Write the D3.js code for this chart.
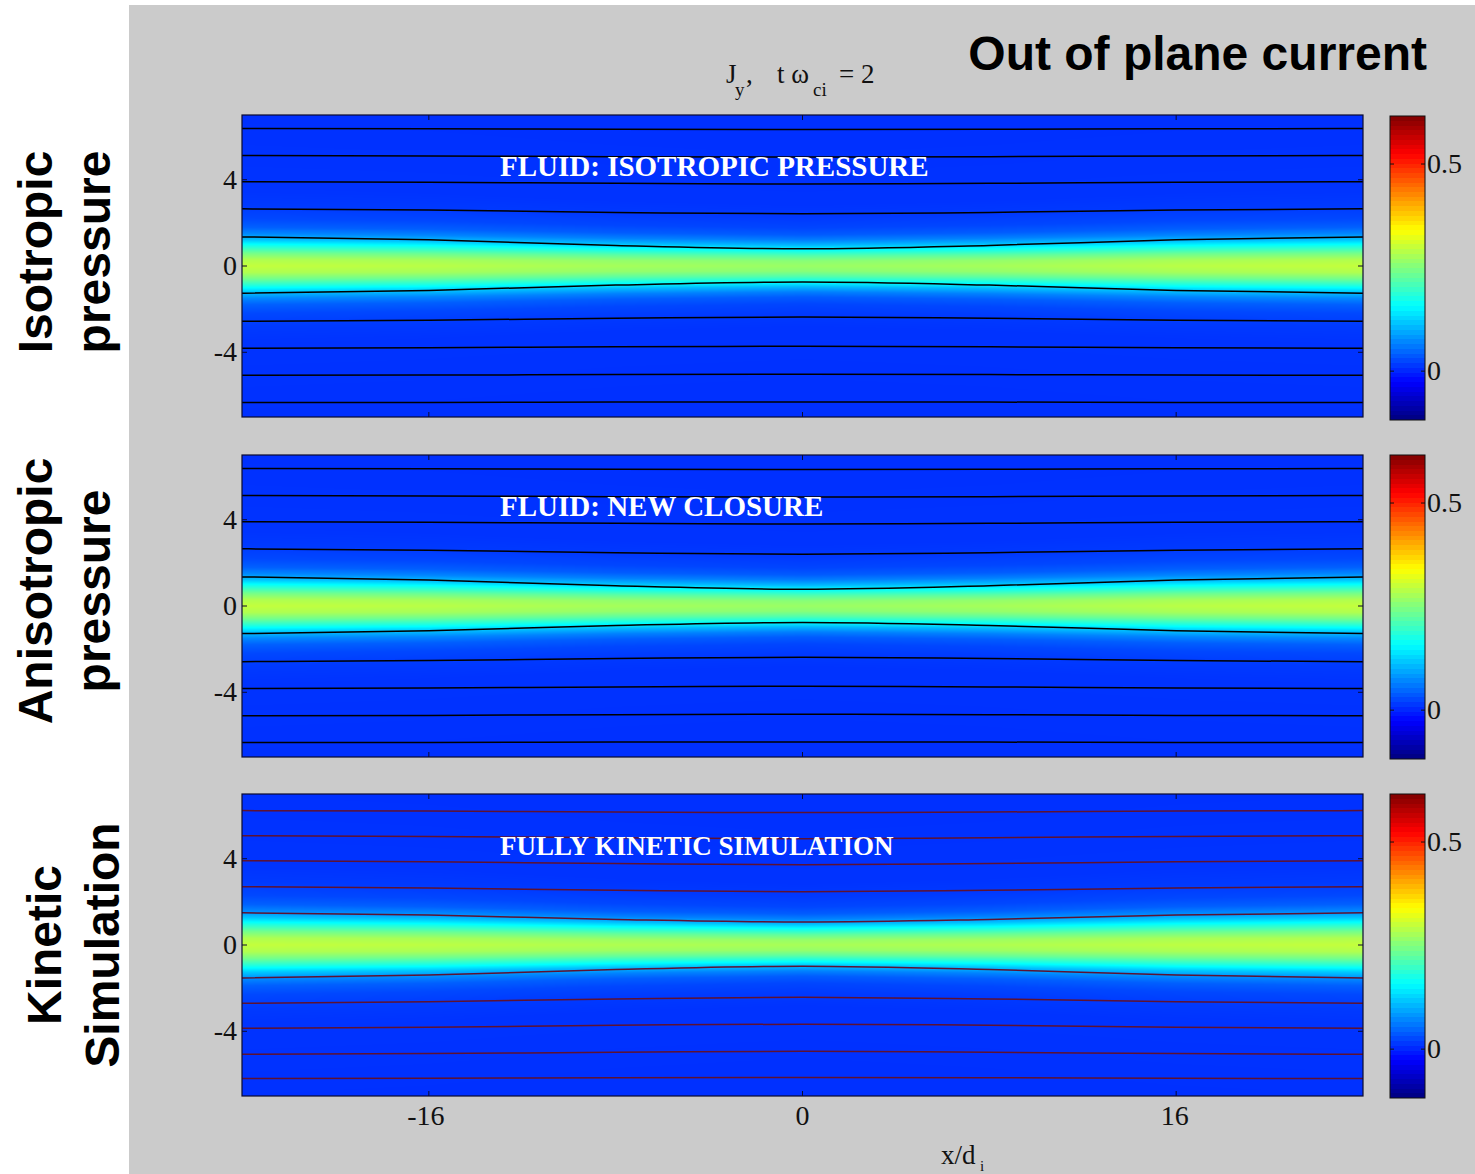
<!DOCTYPE html>
<html>
<head>
<meta charset="utf-8">
<script src="https://cdn.jsdelivr.net/npm/d3@7"></script>
<style>
  html, body { margin: 0; padding: 0; background: #ffffff; }
  svg { display: block; }
</style>
</head>
<body>
<svg id="chart" width="1475" height="1174"></svg>
<script>
// ---------------------------------------------------------------
// Out-of-plane current J_y at t*omega_ci = 2 for three models
// ---------------------------------------------------------------

// x positions (units of d_i) where the sheet pinch is sampled
const xKnots = [-24, -16, -8, 0, 8, 16, 24];
// fraction of the centre displacement reached at each knot
const pinchShape = [0, 0.25, 0.72, 1, 0.72, 0.25, 0];

// normalised current profile across the sheet (|z| / width -> J / peak)
const zProfile = [0, 0.3, 0.6, 0.9, 1.2, 1.5, 1.8, 2.2, 2.8, 3.5, 7.5];
const shapeProfile = [1, 0.95, 0.8, 0.6, 0.38, 0.22, 0.12, 0.06, 0.025, 0.01, 0];
const jFloor = 0.008;

// per-model sheet parameters: [isotropic, new closure, kinetic]
const peakEdge = [0.29, 0.29, 0.29];
const peakCenter = [0.26, 0.26, 0.27];
const widthEdge = [1.0, 1.0, 1.05];
const widthCenter = [0.8, 0.8, 0.8];

// flux-contour heights z (d_i) at the box edges and at x = 0
const contourEdgeIso = [6.37, 5.12, 3.91, 2.65, 1.35, -1.26, -2.56, -3.81, -5.07, -6.33];
const contourCenterIso = [6.33, 5.05, 3.80, 2.42, 0.80, -0.74, -2.37, -3.72, -5.02, -6.30];
const contourEdgeClosure = [6.37, 5.12, 3.91, 2.65, 1.35, -1.28, -2.58, -3.83, -5.09, -6.33];
const contourCenterClosure = [6.33, 5.05, 3.80, 2.40, 0.78, -0.76, -2.38, -3.72, -5.02, -6.30];
const contourEdgeKinetic = [6.23, 5.07, 3.91, 2.70, 1.49, -1.53, -2.70, -3.86, -5.07, -6.19];
const contourCenterKinetic = [6.14, 4.93, 3.72, 2.47, 1.07, -0.98, -2.42, -3.67, -4.93, -6.14];

const rowLabels = [["Isotropic", "pressure"], ["Anisotropic", "pressure"], ["Kinetic", "Simulation"]];
const panelTitles = ["FLUID: ISOTROPIC PRESSURE", "FLUID: NEW CLOSURE", "FULLY KINETIC SIMULATION"];
const contourColors = ["#000000", "#000000", "#5e1232"];

const xTicks = [-16, 0, 16];
const yTicks = [-4, 0, 4];
const cbarTicks = [0, 0.5];
const cbarDomain = [-0.118, 0.616];
const xDomain = [-24, 24];
const zDomain = [-7, 7];

// ---------------------------------------------------------------
const svg = d3.select("#chart");
const serif = "'Liberation Serif', 'Times New Roman', serif";
const sans = "'Liberation Sans', Arial, sans-serif";

svg.append("rect").attr("x", 129).attr("y", 5).attr("width", 1346).attr("height", 1169)
  .attr("fill", "#cbcbcb");

const left = 242, right = 1363, panelH = 302;
const panelTops = [115, 455, 794];
const labelShift = [-14, -15, 0];
const captionSize = [29, 29, 27];
const cbarX = 1390, cbarW = 35, cbarH = 304;
const cbarTops = [116, 455, 794];

const xScale = d3.scaleLinear().domain(xDomain).range([left, right]);
const knotScale = d3.scaleLinear().domain(xKnots).range(pinchShape);
const profile = d3.scaleLinear().domain(zProfile).range(shapeProfile).clamp(true);
const colorPos = d3.scaleLinear().domain(cbarDomain).range([0, 1]).clamp(true);

function jet(t) {
  const c = v => Math.max(0, Math.min(1, v));
  return [c(1.5 - Math.abs(4 * t - 3)), c(1.5 - Math.abs(4 * t - 2)), c(1.5 - Math.abs(4 * t - 1))];
}

const contourSets = [
  [contourEdgeIso, contourCenterIso],
  [contourEdgeClosure, contourCenterClosure],
  [contourEdgeKinetic, contourCenterKinetic]
];

const tickFont = 28;

panelTops.forEach((top, p) => {
  const zScale = d3.scaleLinear().domain(zDomain).range([top + panelH, top]);
  const W = right - left, H = panelH;

  // current density image
  const canvas = document.createElement("canvas");
  canvas.width = W; canvas.height = H;
  const ctx = canvas.getContext("2d");
  const img = ctx.createImageData(W, H);
  for (let i = 0; i < W; i++) {
    const x = xScale.invert(left + i + 0.5);
    const s = knotScale(x);
    const peak = peakEdge[p] + (peakCenter[p] - peakEdge[p]) * s;
    const w = widthEdge[p] + (widthCenter[p] - widthEdge[p]) * s;
    for (let j = 0; j < H; j++) {
      const z = zScale.invert(top + j + 0.5);
      const J = peak * profile(Math.abs(z) / w) + jFloor;
      const rgb = jet(colorPos(J));
      const k = 4 * (j * W + i);
      img.data[k] = Math.round(rgb[0] * 255);
      img.data[k + 1] = Math.round(rgb[1] * 255);
      img.data[k + 2] = Math.round(rgb[2] * 255);
      img.data[k + 3] = 255;
    }
  }
  ctx.putImageData(img, 0, 0);
  svg.append("image").attr("x", left).attr("y", top).attr("width", W).attr("height", H)
    .attr("preserveAspectRatio", "none")
    .attr("href", canvas.toDataURL());

  // flux contours
  const [edgeZ, centerZ] = contourSets[p];
  const line = d3.line().x(d => xScale(d[0])).y(d => zScale(d[1])).curve(d3.curveMonotoneX);
  edgeZ.forEach((ez, k) => {
    const pts = xKnots.map((xk, i) => [xk, ez + (centerZ[k] - ez) * pinchShape[i]]);
    svg.append("path").attr("d", line(pts)).attr("fill", "none")
      .attr("stroke", contourColors[p]).attr("stroke-width", 1.5);
  });

  // frame and ticks
  svg.append("rect").attr("x", left).attr("y", top).attr("width", W).attr("height", H)
    .attr("fill", "none").attr("stroke", "#0a0a30").attr("stroke-width", 1.2);
  const tickG = svg.append("g").attr("stroke", "#0a0a30").attr("stroke-width", 1);
  yTicks.forEach(t => {
    tickG.append("line").attr("x1", left).attr("x2", left + 5).attr("y1", zScale(t)).attr("y2", zScale(t));
    tickG.append("line").attr("x1", right).attr("x2", right - 5).attr("y1", zScale(t)).attr("y2", zScale(t));
  });
  xTicks.forEach(t => {
    tickG.append("line").attr("x1", xScale(t)).attr("x2", xScale(t)).attr("y1", top + H).attr("y2", top + H - 5);
    tickG.append("line").attr("x1", xScale(t)).attr("x2", xScale(t)).attr("y1", top).attr("y2", top + 5);
  });

  // y tick labels
  yTicks.forEach(t => {
    svg.append("text").attr("x", left - 5).attr("y", zScale(t) + 9)
      .attr("text-anchor", "end").attr("font-family", serif).attr("font-size", tickFont)
      .attr("fill", "#111").text(t);
  });

  // panel caption
  svg.append("text").attr("x", 500).attr("y", top + 61)
    .attr("font-family", serif).attr("font-weight", "bold").attr("font-size", captionSize[p])
    .attr("fill", "#ffffff").text(panelTitles[p]);

  // row label
  const cy = top + panelH / 2 + labelShift[p];
  const lab = rowLabels[p];
  const bx = p === 2 ? [61, 119] : [52, 110];
  lab.forEach((t, i) => {
    svg.append("text").attr("transform", `translate(${bx[i]},${cy}) rotate(-90)`)
      .attr("text-anchor", "middle").attr("font-family", sans).attr("font-weight", "bold")
      .attr("font-size", 48).attr("fill", "#000").text(t);
  });

  // colour bar
  const cTop = cbarTops[p];
  const cScale = d3.scaleLinear().domain(cbarDomain).range([cTop + cbarH, cTop]);
  const cc = document.createElement("canvas");
  cc.width = 1; cc.height = cbarH;
  const cctx = cc.getContext("2d");
  const cimg = cctx.createImageData(1, cbarH);
  for (let j = 0; j < cbarH; j++) {
    const v = cScale.invert(cTop + j + 0.5);
    const q = Math.min(63, Math.floor(colorPos(v) * 64));
    const rgb = jet((q + 0.5) / 64);
    cimg.data[4 * j] = Math.round(rgb[0] * 255);
    cimg.data[4 * j + 1] = Math.round(rgb[1] * 255);
    cimg.data[4 * j + 2] = Math.round(rgb[2] * 255);
    cimg.data[4 * j + 3] = 255;
  }
  cctx.putImageData(cimg, 0, 0);
  svg.append("image").attr("x", cbarX).attr("y", cTop).attr("width", cbarW).attr("height", cbarH)
    .attr("preserveAspectRatio", "none").attr("href", cc.toDataURL())
    .style("image-rendering", "pixelated");
  svg.append("rect").attr("x", cbarX).attr("y", cTop).attr("width", cbarW).attr("height", cbarH)
    .attr("fill", "none").attr("stroke", "#111").attr("stroke-width", 1);
  cbarTicks.forEach(t => {
    const y = cScale(t);
    svg.append("line").attr("x1", cbarX).attr("x2", cbarX + 4).attr("y1", y).attr("y2", y).attr("stroke", "#111");
    svg.append("line").attr("x1", cbarX + cbarW).attr("x2", cbarX + cbarW - 4).attr("y1", y).attr("y2", y).attr("stroke", "#111");
    svg.append("text").attr("x", cbarX + cbarW + 2).attr("y", y + 9)
      .attr("font-family", serif).attr("font-size", tickFont).attr("fill", "#111").text(t);
  });

  // x tick labels under the last panel
  if (p === panelTops.length - 1) {
    xTicks.forEach(t => {
      svg.append("text").attr("x", xScale(t) - (t < 0 ? 3 : t > 0 ? 1.5 : 0)).attr("y", top + panelH + 29)
        .attr("text-anchor", "middle").attr("font-family", serif).attr("font-size", tickFont)
        .attr("fill", "#111").text(t);
    });
  }
});

// axis title and plot heading
const sub = (x, y, t, size) => svg.append("text").attr("x", x).attr("y", y)
  .attr("font-family", serif).attr("font-size", size).attr("fill", "#111").text(t);
sub(941, 1164, "x/d", 27);
sub(980, 1171, "i", 15);

sub(726, 83, "J", 27);
sub(735, 96, "y", 19);
sub(746, 83, ",", 27);
sub(777, 83, "t \u03c9", 27);
sub(813, 96, "ci", 19);
sub(839, 83, "= 2", 27);

svg.append("text").attr("x", 1427).attr("y", 70).attr("text-anchor", "end")
  .attr("font-family", sans).attr("font-weight", "bold").attr("font-size", 48)
  .attr("fill", "#000").text("Out of plane current");
</script>
</body>
</html>
